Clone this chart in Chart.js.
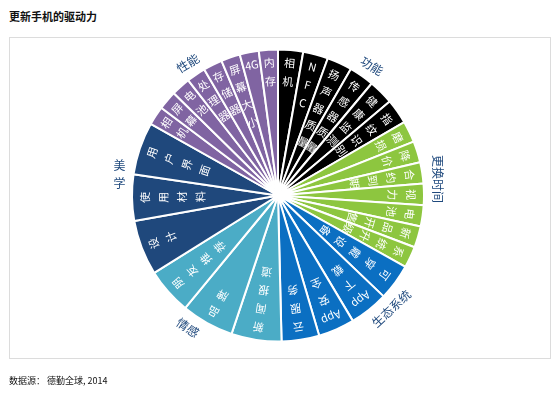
<!DOCTYPE html>
<html lang="zh">
<head>
<meta charset="UTF-8" />
<title>更新手机的驱动力</title>
<script src="https://cdn.jsdelivr.net/npm/chart.js@4.4.0/dist/chart.umd.min.js"></script>
<style>
  html, body { margin: 0; padding: 0; background: #fff; }
  body {
    width: 560px; height: 393px; position: relative; overflow: hidden;
    font-family: "Noto Sans CJK SC", "Noto Sans", sans-serif;
  }
  #title { position: absolute; left: 9px; top: 8px; font-size: 11px; font-weight: bold; color: #111; }
  #frame { position: absolute; left: 9px; top: 37px; width: 540px; height: 320px; border: 1px solid #dcdcdc; }
  #source { position: absolute; left: 9px; top: 374px; font-size: 9px; color: #111; }
  #chart { position: absolute; left: 0; top: 0; }
</style>
</head>
<body>
<div id="title">更新手机的驱动力</div>
<div id="frame"></div>
<canvas id="chart" width="560" height="393"></canvas>
<div id="source">数据源： 德勤全球, 2014</div>
<script>
// categories, clockwise from 12 o'clock
const categories = ['功能', '更换时间', '生态系统', '情感', '美学', '性能'];

const featureLabels = ['相机', 'NFC', '扬声器质量', '传感器质量', '健康监测', '指纹识别'];
const featureValues = [10, 10, 10, 10, 10, 10];

const switchLabels = ['磨损', '降价', '合约到期', '视力', '电池', '新品开售', '系统升级'];
const switchValues = [8.5, 8.5, 8.5, 8.5, 8.5, 8.5, 8.5];

const ecoLabels = ['可穿戴设备', 'App下载', 'App安全', '云服务'];
const ecoValues = [14.5, 15.5, 14.5, 15];

const emotionLabels = ['新闻报道', '品牌', '朋友推荐'];
const emotionValues = [20, 21, 18.5];

const designLabels = ['设计', '使用材料', '用户界面'];
const designValues = [22, 18.5, 21];

const perfLabels = ['相机', '屏幕', '电池', '处理器', '存储器', '屏幕大小', '4G', '内存'];
const perfValues = [7.6, 7.6, 7.6, 7.6, 7.6, 7.6, 7.6, 7.6];

const groupLabels = [featureLabels, switchLabels, ecoLabels, emotionLabels, designLabels, perfLabels];
const groupValues = [featureValues, switchValues, ecoValues, emotionValues, designValues, perfValues];
const groupColors = ['#000000', '#8dc63f', '#0b6fc2', '#4bacc6', '#1f487c', '#8064a2'];

const sliceLabels = [];
const sliceValues = [];
const sliceColors = [];
const sliceGroup = [];
groupLabels.forEach((labels, g) => {
  labels.forEach((l, i) => {
    sliceLabels.push(l);
    sliceValues.push(groupValues[g][i]);
    sliceColors.push(groupColors[g]);
    sliceGroup.push(g);
  });
});

// label placement tweaks for the category names (degrees off the group middle)
const catOffset = [6, -5.5, -14, 6, 9, -4];
const catRotate = [32, 90, -43, 34, null, -32];

const textPlugin = {
  id: 'textPlugin',
  afterDatasetsDraw(chart) {
    const ctx = chart.ctx;
    const arcs = chart.getDatasetMeta(0).data;
    ctx.save();
    ctx.textAlign = 'center';
    ctx.textBaseline = 'middle';

    // text inside the slices, outer to inner
    ctx.fillStyle = '#ffffff';
    ctx.font = '11px "Noto Sans CJK SC"';
    arcs.forEach((arc, i) => {
      const p = arc.getProps(['x', 'y', 'startAngle', 'endAngle', 'outerRadius'], true);
      const a = (p.startAngle + p.endAngle) / 2;
      const tokens = sliceLabels[i].match(/App|4G|./g);
      tokens.forEach((t, k) => {
        const r = p.outerRadius - 13 - k * 18.5;
        ctx.save();
        ctx.translate(p.x + Math.cos(a) * r, p.y + Math.sin(a) * r);
        ctx.rotate(a + Math.PI / 2);
        ctx.fillText(t, 0, 0);
        ctx.restore();
      });
    });

    // category names round the outside
    ctx.fillStyle = '#1f497d';
    ctx.font = '12px "Noto Sans CJK SC"';
    categories.forEach((name, g) => {
      const idx = sliceGroup.map((v, i) => v === g ? i : -1).filter(i => i >= 0);
      const first = arcs[idx[0]].getProps(['x', 'y', 'startAngle', 'outerRadius'], true);
      const last = arcs[idx[idx.length - 1]].getProps(['endAngle'], true);
      const a = (first.startAngle + last.endAngle) / 2 + catOffset[g] * Math.PI / 180;
      const r = first.outerRadius + 14;
      const x = first.x + Math.cos(a) * r;
      const y = first.y + Math.sin(a) * r;
      ctx.save();
      ctx.translate(x, y);
      if (catRotate[g] === null) {
        [...name].forEach((c, k, arr) => {
          ctx.fillText(c, 0, (k - (arr.length - 1) / 2) * 18);
        });
      } else {
        ctx.rotate(catRotate[g] * Math.PI / 180);
        ctx.fillText(name, 0, 0);
      }
      ctx.restore();
    });
    ctx.restore();
  }
};

new Chart(document.getElementById('chart'), {
  type: 'pie',
  data: {
    labels: sliceLabels,
    datasets: [{
      data: sliceValues,
      backgroundColor: sliceColors,
      borderColor: '#ffffff',
      borderWidth: 2,
      radius: 146
    }]
  },
  options: {
    responsive: false,
    animation: false,
    layout: { padding: { left: 0, right: 4, top: 0, bottom: 2 } },
    plugins: {
      legend: { display: false },
      tooltip: { enabled: false }
    }
  },
  plugins: [textPlugin]
});
</script>
</body>
</html>
